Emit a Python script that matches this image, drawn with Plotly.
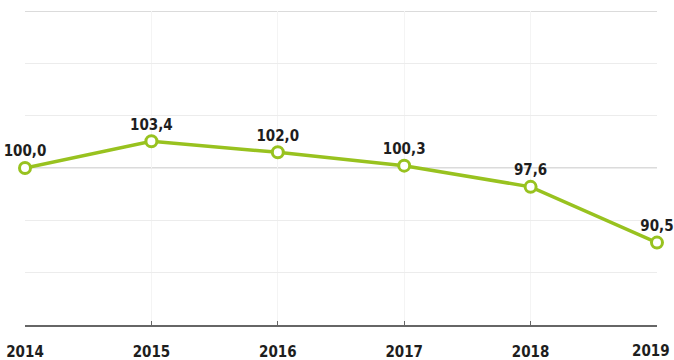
import plotly.graph_objects as go

years = [2014, 2015, 2016, 2017, 2018, 2019]
values = [100.0, 103.4, 102.0, 100.3, 97.6, 90.5]
labels = [f"{v:.1f}".replace(".", ",") for v in values]
grid_vals = [80, 86.667, 93.333, 100, 106.667, 113.333, 120]

FONT = "DejaVu Sans Condensed"
GREEN = "#98c21f"
tick_font = dict(family=FONT, size=15, color="#1e1e1e", weight="bold")

fig = go.Figure()
fig.add_trace(go.Scatter(
    x=years, y=values, mode="lines+markers+text",
    text=labels, textposition="top center",
    textfont=dict(family=FONT, size=15, color="#1e1e1e", weight="bold"),
    line=dict(color=GREEN, width=3.5),
    marker=dict(symbol="circle", size=11, color="white", line=dict(color=GREEN, width=3)),
    cliponaxis=False, hoverinfo="skip",
))
for yv in (100, 120):
    fig.add_shape(type="line", xref="paper", x0=0, x1=1, yref="y", y0=yv, y1=yv,
                  line=dict(color="#cfcfcf", width=1.5), layer="below")

ticktext = [str(y) for y in years[:-1]] + [""]
fig.add_annotation(x=years[-1], xref="x", y=0, yref="paper", text=str(years[-1]),
                   showarrow=False, xanchor="right", yanchor="top", xshift=15, yshift=-15,
                   font=tick_font)

fig.update_layout(
    width=674, height=360,
    margin=dict(l=25, r=17, t=11, b=35, autoexpand=False),
    paper_bgcolor="white", plot_bgcolor="white",
    showlegend=False,
    xaxis=dict(range=[2013.9999, 2019.0001], tickvals=years, ticktext=ticktext,
               showgrid=True, gridcolor="#f4f4f4", gridwidth=1,
               showline=True, linecolor="#666666", linewidth=1.5,
               ticks="inside", ticklen=4, tickcolor="#666666",
               ticklabelstandoff=12, automargin=False, ticklabeloverflow="allow",
               tickfont=tick_font,
               zeroline=False, fixedrange=True),
    yaxis=dict(range=[80, 120], tickvals=grid_vals, showticklabels=False,
               showgrid=True, gridcolor="#ececec", gridwidth=1, automargin=False,
               zeroline=False, showline=False, fixedrange=True),
)
fig.write_html("out.html")
